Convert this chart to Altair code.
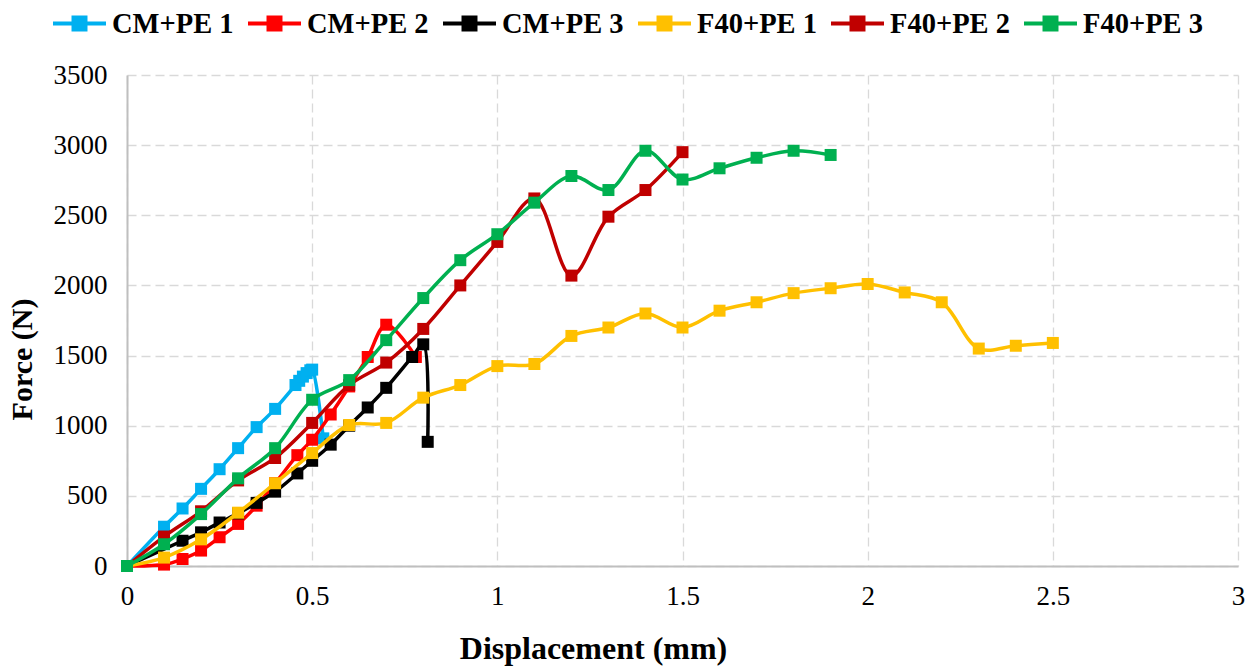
import altair as alt
import pandas as pd

# Force-displacement readings for each specimen
cm_pe1_x = [0, 0.1, 0.15, 0.2, 0.25, 0.3, 0.35, 0.4, 0.455, 0.465, 0.475, 0.485, 0.495, 0.5, 0.53]
cm_pe1_y = [0, 280, 410, 550, 690, 840, 990, 1120, 1290, 1320, 1350, 1375, 1395, 1400, 910]

cm_pe2_x = [0, 0.1, 0.15, 0.2, 0.25, 0.3, 0.35, 0.4, 0.46, 0.5, 0.55, 0.6, 0.65, 0.7, 0.78]
cm_pe2_y = [0, 10, 50, 110, 205, 300, 430, 590, 790, 900, 1080, 1280, 1490, 1720, 1490]

cm_pe3_x = [0, 0.15, 0.2, 0.25, 0.3, 0.35, 0.4, 0.46, 0.5, 0.55, 0.6, 0.65, 0.7, 0.77, 0.8, 0.812]
cm_pe3_y = [0, 180, 240, 310, 375, 450, 530, 660, 750, 865, 1000, 1130, 1270, 1490, 1580, 885]

f40_pe1_x = [0, 0.1, 0.2, 0.3, 0.4, 0.5, 0.6, 0.7, 0.8, 0.9, 1.0, 1.1, 1.2, 1.3, 1.4, 1.5, 1.6,
             1.7, 1.8, 1.9, 2.0, 2.1, 2.2, 2.3, 2.4, 2.5]
f40_pe1_y = [0, 60, 190, 380, 590, 805, 1005, 1020, 1200, 1290, 1425, 1440, 1640, 1700, 1800, 1700,
             1820, 1880, 1945, 1980, 2010, 1950, 1880, 1550, 1570, 1590]

f40_pe2_x = [0, 0.1, 0.2, 0.3, 0.4, 0.5, 0.6, 0.7, 0.8, 0.9, 1.0, 1.1, 1.2, 1.3, 1.4, 1.5]
f40_pe2_y = [0, 210, 390, 610, 770, 1020, 1290, 1450, 1690, 2000, 2310, 2620, 2070, 2490, 2680, 2950]

f40_pe3_x = [0, 0.1, 0.2, 0.3, 0.4, 0.5, 0.6, 0.7, 0.8, 0.9, 1.0, 1.1, 1.2, 1.3, 1.4, 1.5, 1.6,
             1.7, 1.8, 1.9]
f40_pe3_y = [0, 155, 370, 625, 840, 1185, 1325, 1610, 1910, 2180, 2365, 2590, 2780, 2680, 2960,
             2755, 2835, 2910, 2960, 2930]

series_names = ["CM+PE 1", "CM+PE 2", "CM+PE 3", "F40+PE 1", "F40+PE 2", "F40+PE 3"]
series_colors = ["#00B0F0", "#FF0000", "#000000", "#FFC000", "#C00000", "#00B050"]
series_xy = [
    (cm_pe1_x, cm_pe1_y), (cm_pe2_x, cm_pe2_y), (cm_pe3_x, cm_pe3_y),
    (f40_pe1_x, f40_pe1_y), (f40_pe2_x, f40_pe2_y), (f40_pe3_x, f40_pe3_y),
]

x_ticks = [0, 0.5, 1, 1.5, 2, 2.5, 3]
y_ticks = [0, 500, 1000, 1500, 2000, 2500, 3000, 3500]

rows = []
for name, (xs, ys) in zip(series_names, series_xy):
    for i, (xv, yv) in enumerate(zip(xs, ys)):
        rows.append({"series": name, "idx": i, "disp": xv, "force": yv})
df = pd.DataFrame(rows)

FONT = "'Times New Roman', 'Liberation Serif', Times, serif"

x_enc = alt.X(
    "disp:Q",
    scale=alt.Scale(domain=[0, 3], nice=False),
    axis=alt.Axis(
        values=x_ticks, format="~g", title="Displacement (mm)",
        grid=True, gridDash=[9, 5], gridColor="#D9D9D9", gridWidth=1.3,
        domainColor="#BFBFBF", domainWidth=2, ticks=False, labelFlush=False,
        labelFont=FONT, labelFontSize=27, labelColor="#000000", labelPadding=17,
        titleFont=FONT, titleFontSize=32, titleFontWeight="bold", titleColor="#000000",
        titleX=466, titleY=92, titleAlign="center", titleBaseline="alphabetic",
    ),
)
y_enc = alt.Y(
    "force:Q",
    scale=alt.Scale(domain=[0, 3500], nice=False),
    axis=alt.Axis(
        values=y_ticks, format="d", title="Force (N)",
        grid=True, gridDash=[9, 5], gridColor="#D9D9D9", gridWidth=1.3,
        domainColor="#BFBFBF", domainWidth=2, ticks=False, labelFlush=False,
        labelFont=FONT, labelFontSize=27, labelColor="#000000", labelPadding=20,
        titleFont=FONT, titleFontSize=30, titleFontWeight="bold", titleColor="#000000",
        titleAngle=270, titleX=-96, titleY=284, titleAlign="center",
        titleBaseline="alphabetic",
    ),
)

legend = alt.Legend(
    title=None, orient="none", direction="horizontal", columns=6,
    legendX=-76, legendY=-80,
    symbolType="M-1,0L1,0M-0.226,-0.226L0.226,-0.226L0.226,0.226L-0.226,0.226Z",
    symbolSize=2809, symbolStrokeWidth=4, symbolOpacity=1,
    labelOffset=4, columnPadding=6,
    labelFont=FONT, labelFontSize=28.5, labelFontWeight="bold", labelColor="#000000",
)
color_enc = alt.Color(
    "series:N",
    scale=alt.Scale(domain=series_names, range=series_colors),
    legend=legend,
)

layers = []
for name in series_names:
    base = alt.Chart(df).transform_filter(alt.datum.series == name)
    line = base.mark_line(strokeWidth=3.5, interpolate="catmull-rom").encode(
        x=x_enc, y=y_enc, color=color_enc, order="idx:Q"
    )
    pts = base.mark_point(shape="square", filled=True, size=144, opacity=1).encode(
        x=x_enc, y=y_enc, color=color_enc
    )
    layers += [line, pts]

chart = alt.layer(*layers).properties(
    width=1111, height=491,
    autosize=alt.AutoSizeParams(type="none"),
    padding={"left": 127, "top": 75, "right": 20, "bottom": 101},
    background="#FFFFFF",
).configure_view(stroke=None)

chart.save("out.html", embed_options={"renderer": "svg", "actions": False})
